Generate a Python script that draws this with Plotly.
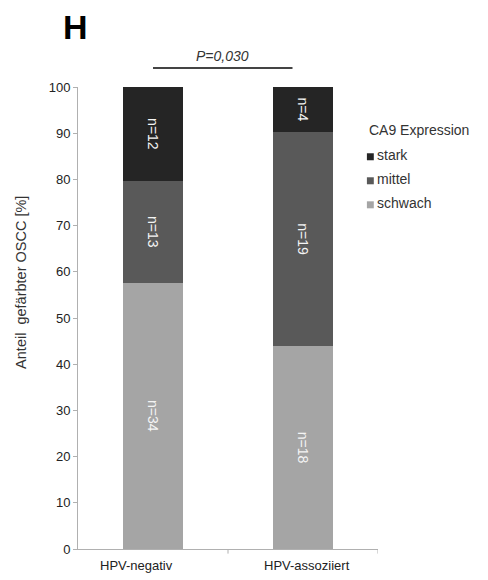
import plotly.graph_objects as go

# CA9 expression counts per HPV group
groups = ["HPV-negativ", "HPV-assoziiert"]
levels = ["schwach", "mittel", "stark"]
counts_schwach = [34, 18]
counts_mittel = [13, 19]
counts_stark = [12, 4]
colors = {"stark": "#252525", "mittel": "#595959", "schwach": "#a5a5a5"}

totals = [a + b + c for a, b, c in zip(counts_schwach, counts_mittel, counts_stark)]
series = {"schwach": counts_schwach, "mittel": counts_mittel, "stark": counts_stark}

FONT = "Liberation Sans, Arial"
PLOT_H = 580 - 87 - 31  # plot area height in px

fig = go.Figure()
for lvl in levels:
    n = series[lvl]
    pct = [100.0 * v / t for v, t in zip(n, totals)]
    fig.add_trace(go.Bar(
        x=groups, y=pct, name=lvl,
        marker=dict(color=colors[lvl], line=dict(width=0)),
        text=[f"n={v}" for v in n],
        textposition="inside", insidetextanchor="middle",
        textangle=90,
        textfont=dict(color="#f4f4f4", size=14, family=FONT),
        width=0.4,
        hoverinfo="skip",
        showlegend=False,
    ))

fig.update_layout(
    barmode="stack",
    width=488, height=580,
    margin=dict(l=78, r=110, t=87, b=31),
    paper_bgcolor="white", plot_bgcolor="white",
    font=dict(family=FONT, size=12, color="#333333"),
    xaxis=dict(
        showline=True, linecolor="#b0b0b0", linewidth=1,
        ticks="", showgrid=False, range=[-0.5, 1.5],
        showticklabels=False,
    ),
    yaxis=dict(
        range=[0, 100], dtick=10,
        showline=True, linecolor="#b0b0b0", linewidth=1,
        ticks="outside", ticklen=4, tickcolor="#b0b0b0",
        showgrid=False, zeroline=False,
        tickfont=dict(size=13, color="#222222"),
    ),
)

# category labels
label_offsets = [-0.113, 0.027]
for i, (g, dx) in enumerate(zip(groups, label_offsets)):
    fig.add_annotation(
        text=g, xref="x", yref="paper", x=i + dx, y=-0.035,
        xanchor="center", yanchor="middle", showarrow=False,
        font=dict(size=13, color="#222222"),
    )

# legend: title, swatches and labels
fig.add_annotation(
    text="CA9 Expression", xref="paper", yref="paper",
    x=0.963, y=0.907, xanchor="left", yanchor="middle",
    showarrow=False, font=dict(size=14, color="#333333"),
)
half = 3.5 / PLOT_H
for k, lvl in enumerate(["stark", "mittel", "schwach"]):
    yc = 0.852 - 0.052 * k
    fig.add_shape(type="rect", xref="paper", yref="paper",
                  x0=0.963, x1=0.986, y0=yc - half - 0.003, y1=yc + half - 0.003,
                  fillcolor=colors[lvl], line=dict(width=0))
    fig.add_annotation(
        text=lvl, xref="paper", yref="paper",
        x=0.989, y=yc, xanchor="left", yanchor="middle",
        showarrow=False, font=dict(size=14, color="#333333"),
    )

# panel letter
fig.add_annotation(
    text="<b>H</b>", xref="paper", yref="paper",
    x=-0.01, y=1.13, xanchor="center", yanchor="middle",
    showarrow=False, font=dict(size=34, color="black", family=FONT),
)

# y-axis title
fig.add_annotation(
    text="Anteil  gefärbter OSCC [%]", xref="paper", yref="paper",
    x=-0.19, y=0.576, xanchor="center", yanchor="middle",
    textangle=-90, showarrow=False,
    font=dict(size=14.5, color="#333333"),
)

# significance bracket
fig.add_shape(type="line", xref="x", yref="paper",
              x0=0.0, x1=0.93, y0=1.041, y1=1.041,
              line=dict(color="#444444", width=2))
fig.add_annotation(
    text="<i>P=0,030</i>", xref="x", yref="paper",
    x=0.46, y=1.045, xanchor="center", yanchor="bottom",
    showarrow=False, font=dict(size=14, color="#333333"),
)

# category separator ticks on the x axis
for xs in (0.5, 1.5):
    fig.add_shape(type="line", xref="x", yref="paper",
                  x0=xs, x1=xs, y0=0, y1=-0.01,
                  line=dict(color="#b0b0b0", width=1))

fig.write_html("out.html")
